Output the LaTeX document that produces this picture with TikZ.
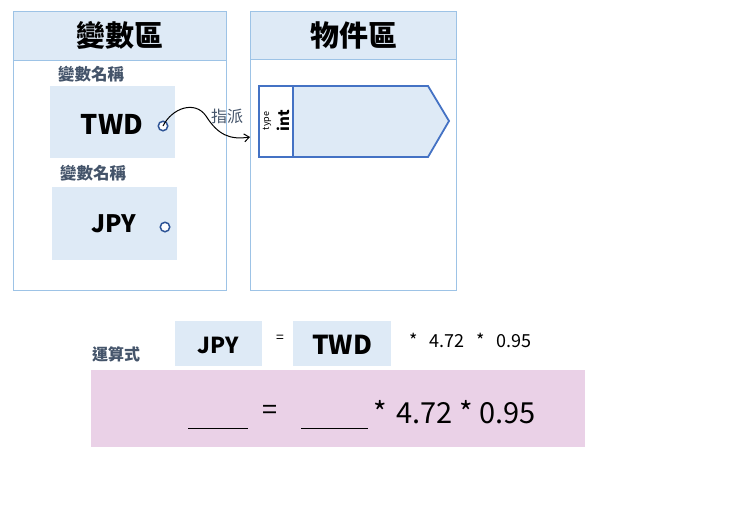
\documentclass[tikz,border=0pt]{standalone}
\usepackage{fontspec}
\setmainfont{Noto Sans CJK TC}
\usetikzlibrary{arrows.meta}
\definecolor{hdr}{HTML}{DEEAF6}
\definecolor{pborder}{HTML}{9DC3E6}
\definecolor{objblue}{HTML}{4472C4}
\definecolor{dot}{HTML}{2F5597}
\definecolor{lab}{HTML}{44546A}
\definecolor{pinkbg}{HTML}{EAD1E7}
\tikzset{
  panel/.style={draw=pborder, line width=0.8pt, fill=white},
  hdrband/.style={draw=pborder, line width=0.8pt, fill=hdr},
  varbox/.style={fill=hdr, inner sep=0pt},
  lbl/.style={text=lab, font=\bfseries\fontsize{16.5}{18}\selectfont, inner sep=0pt},
  dotc/.style={circle, draw=dot, line width=1.5pt, fill=white, minimum size=9.5pt, inner sep=0pt},
  blank/.style={draw=black, line width=1pt},
}
\begin{document}
\begin{tikzpicture}[x=1pt,y=-1pt]
\useasboundingbox (0,0) rectangle (741,522);
% panels
\draw[panel] (13,11) rectangle (226,290);
\draw[hdrband] (13,11) rectangle (226,60);
\node[font=\bfseries\fontsize{29}{32}\selectfont, inner sep=0pt] (t1) at (120,35) {變數區};
\draw[panel] (250,11) rectangle (456,290);
\draw[hdrband] (250,11) rectangle (456,59);
\node[font=\bfseries\fontsize{29}{32}\selectfont, inner sep=0pt] (t2) at (354,35) {物件區};
% variable boxes
\node[lbl] (l1) at (91,74) {變數名稱};
\node[varbox, minimum width=125pt, minimum height=72pt] (twdbox) at (112.5,122) {};
\node[font=\bfseries\fontsize{27}{30}\selectfont, inner sep=0pt] (twd) at (112,124) {TWD};
\node[dotc] (c1) at (163,126) {};
\node[lbl] (l2) at (93,173) {變數名稱};
\node[varbox, minimum width=125pt, minimum height=73pt] (jpybox) at (114.5,223.5) {};
\node[font=\bfseries\fontsize{24}{27}\selectfont, inner sep=0pt] (jpy) at (114,224) {JPY};
\node[dotc] (c2) at (165,227) {};
% object
\coordinate (oa) at (259,86);
\coordinate (ob) at (293,86);
\coordinate (oc) at (428,86);
\coordinate (od) at (449,121);
\coordinate (oe) at (428,157);
\coordinate (of) at (293,157);
\coordinate (og) at (259,157);
\fill[white] (oa) rectangle (of);
\fill[hdr] (ob) -- (oc) -- (od) -- (oe) -- (of) -- cycle;
\draw[objblue, line width=1.8pt, line join=miter] (oa) -- (oc) -- (od) -- (oe) -- (og) -- cycle;
\draw[objblue, line width=1.8pt] (ob) -- (of);
\node[rotate=90, font=\fontsize{9}{10}\selectfont, inner sep=0pt] (ty) at (267,121) {type};
\node[rotate=90, font=\bfseries\fontsize{15}{16}\selectfont, inner sep=0pt] (int) at (283,121) {int};
\coordinate (objw) at (250,137);
% assignment arrow
\draw[-{Straight Barb[length=5pt,width=8pt]}, line width=1pt] (c1.center) .. controls (172,108) and (195,100) .. (206,116) .. controls (218,135) and (230,140) .. (objw);
\node[text=lab, font=\fontsize{16}{18}\selectfont, inner sep=0pt] (zp) at (227,116) {指派};
% expression
\node[text=lab, font=\bfseries\fontsize{16}{18}\selectfont, inner sep=0pt] (ys) at (116,354) {運算式};
\node[varbox, minimum width=87pt, minimum height=45pt] (ejb) at (218.5,343.5) {};
\node[font=\bfseries\fontsize{22}{24}\selectfont, inner sep=0pt] (ej) at (218,345) {JPY};
\node[font=\fontsize{14}{16}\selectfont, inner sep=0pt] (eq1) at (280,339) {=};
\node[varbox, minimum width=98pt, minimum height=45pt] (etb) at (342,343.5) {};
\node[font=\bfseries\fontsize{26}{28}\selectfont, inner sep=0pt] (et) at (342,345) {TWD};
\node[font=\fontsize{18}{20}\selectfont, inner sep=0pt, anchor=west] (mul1) at (409,340) {*\hspace{12pt}4.72\hspace{12pt}*\hspace{12pt}0.95};
% pink box
\node[fill=pinkbg, minimum width=494pt, minimum height=77pt, inner sep=0pt] (pink) at (338,408.5) {};
\coordinate (u1a) at (188,428); \coordinate (u1b) at (248,428);
\coordinate (u2a) at (301,428); \coordinate (u2b) at (368,428);
\draw[blank] (u1a) -- (u1b);
\draw[blank] (u2a) -- (u2b);
\node[font=\fontsize{27}{30}\selectfont, inner sep=0pt] (eq2) at (270,412) {=};
\node[font=\fontsize{29}{32}\selectfont, inner sep=0pt, anchor=west] (mul2) at (373,412) {*\hspace{10pt}4.72 * 0.95};
\end{tikzpicture}
\end{document}
